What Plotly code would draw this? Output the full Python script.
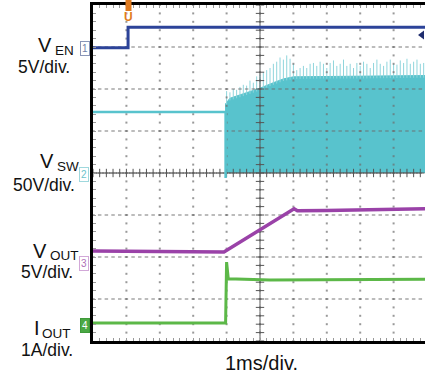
import numpy as np
import plotly.graph_objects as go

# ---- data (time in ms = divisions, vertical in screen divisions) ----
ven_t = [0, 1.05, 1.05, 9.94]
ven_y = [6.98, 6.98, 7.47, 7.47]

vsw_pre_t = [0, 3.96, 3.97, 3.97]
vsw_pre_y = [5.45, 5.45, 5.45, 3.88]
vsw_env_t = [3.97, 4.1, 4.5, 5.0, 5.4, 5.7, 6.0, 7.0, 8.0, 9.94]
vsw_env_y = [5.65, 5.78, 5.88, 6.02, 6.15, 6.24, 6.29, 6.30, 6.30, 6.32]
vsw_ground = 4.0
spike_t = [4.00, 4.10, 4.20, 4.30, 4.40, 4.50, 4.60, 4.70, 4.80, 4.90,
           5.00, 5.10, 5.20, 5.30, 5.40, 5.50, 5.60, 5.70, 5.80, 5.90,
           6.00, 6.10, 6.20, 6.30, 6.40, 6.50, 6.60, 6.70, 6.80, 6.90,
           7.00, 7.10, 7.20, 7.30, 7.40, 7.50, 7.60, 7.70, 7.80, 7.90,
           8.00, 8.10, 8.20, 8.30, 8.40, 8.50, 8.60, 8.70, 8.80, 8.90,
           9.00, 9.10, 9.20, 9.30, 9.40, 9.50, 9.60, 9.70, 9.80, 9.90]
spike_y = [5.95, 5.92, 6.00, 5.98, 6.05, 6.10, 6.08, 6.20, 6.15, 6.30,
           6.35, 6.40, 6.45, 6.50, 6.60, 6.65, 6.75, 6.70, 6.80, 6.72,
           6.60, 6.45, 6.50, 6.55, 6.50, 6.60, 6.62, 6.55, 6.65, 6.60,
           6.50, 6.62, 6.68, 6.55, 6.60, 6.70, 6.55, 6.60, 6.50, 6.62,
           6.55, 6.65, 6.60, 6.50, 6.62, 6.70, 6.60, 6.55, 6.65, 6.70,
           6.60, 6.58, 6.68, 6.62, 6.72, 6.60, 6.65, 6.70, 6.60, 6.62]

vout_t = [0, 3.92, 6.02, 6.12, 7.0, 9.94]
vout_y = [2.14, 2.12, 3.15, 3.10, 3.11, 3.15]

iout_t = [0, 3.97, 4.00, 4.05, 5.3, 9.94]
iout_y = [0.43, 0.43, 1.88, 1.48, 1.45, 1.47]

channels = ["V", "V", "V", "I"]
subs = ["EN", "SW", "OUT", "OUT"]
scales = ["5V/div.", "50V/div.", "5V/div.", "1A/div."]
timebase = "1ms/div."

BLUE = "#2c4399"
CYAN = "#58c3cd"
CYAN_L = "#8fd5dc"
PURPLE = "#9a42a8"
GREEN = "#5cb848"
FONT = "Liberation Sans, Arial, sans-serif"

# geometry helpers (pixel -> data / paper)
L, T, B = 93, 5, 34
PW, PH = 332.0, 336.0
PXX = 33.4
PXY = 42.0
def xd(px):
    return (px - L) / PXX
def yd(py):
    return (341 - py) / PXY
def xp(px):
    return (px - L) / PW
def yp(py):
    return (341 - py) / PH

fig = go.Figure()

# VSW switching area
fx = [vsw_env_t[0]] + vsw_env_t + [vsw_env_t[-1]]
fy = [vsw_ground] + vsw_env_y + [vsw_ground]
fig.add_trace(go.Scatter(x=fx, y=fy, fill="toself", fillcolor=CYAN,
                         line=dict(color=CYAN, width=1), mode="lines",
                         hoverinfo="skip"))
sx, sy = [], []
for t, p in zip(spike_t, spike_y):
    base = float(np.interp(t, vsw_env_t, vsw_env_y)) - 0.05
    sx += [t, t, None]
    sy += [base, p, None]
fig.add_trace(go.Scatter(x=sx, y=sy, mode="lines",
                         line=dict(color=CYAN_L, width=1), hoverinfo="skip"))

# graticule dots
GC = "rgba(110,110,110,0.7)"
gx, gy = [], []
for i in range(1, 10):
    for k in range(0, 41):
        gx.append(i); gy.append(k * 0.2)
fig.add_trace(go.Scatter(x=gx, y=gy, mode="markers", hoverinfo="skip",
                         marker=dict(symbol="square", size=2, color=GC,
                                     line=dict(width=0))))
hx, hy = [], []
for j in range(1, 8):
    for k in range(0, 50):
        hx.append(k * 0.2); hy.append(j)
fig.add_trace(go.Scatter(x=hx, y=hy, mode="markers", hoverinfo="skip",
                         marker=dict(symbol="line-ew", size=2.5,
                                     line=dict(width=1.3, color=GC))))
# center cross ticks
cx = [k * 0.2 for k in range(0, 50)] + [5.0] * 41
cy = [4.0] * 50 + [k * 0.2 for k in range(0, 41)]
fig.add_trace(go.Scatter(x=cx, y=cy, mode="markers", hoverinfo="skip",
                         marker=dict(symbol="cross-thin", size=6,
                                     line=dict(width=1, color="#555555"))))

fig.add_trace(go.Scatter(x=vsw_pre_t, y=vsw_pre_y, mode="lines",
                         line=dict(color=CYAN, width=2.5), hoverinfo="skip"))
fig.add_trace(go.Scatter(x=ven_t, y=ven_y, mode="lines",
                         line=dict(color=BLUE, width=3), hoverinfo="skip"))
fig.add_trace(go.Scatter(x=vout_t, y=vout_y, mode="lines",
                         line=dict(color=PURPLE, width=3.5), hoverinfo="skip"))
fig.add_trace(go.Scatter(x=iout_t, y=iout_y, mode="lines",
                         line=dict(color=GREEN, width=3), hoverinfo="skip"))
# trigger level pointer at right edge
fig.add_trace(go.Scatter(x=[xd(422)], y=[yd(35)], mode="markers", cliponaxis=False,
                         marker=dict(symbol="triangle-left", size=8, color="#1f2d6e"),
                         hoverinfo="skip"))

ann = []
# label pixel positions: (main right x, main center y, sub left x, sub center y,
#                         scale right x, scale center y)
lpos = [(53, 45, 53.5, 50.5, 71, 67),
        (55, 160.5, 55.5, 167, 76, 184.5),
        (48, 250.5, 48.5, 255.5, 74, 271.5),
        (41, 328, 41.5, 333.5, 74, 349.5)]
for ch, sb, sc, (mx, my, sxp, syp, kx, ky) in zip(channels, subs, scales, lpos):
    ann.append(dict(x=xp(mx), y=yp(my), xref="paper", yref="paper", text=ch, showarrow=False,
                    xanchor="right", yanchor="middle", borderpad=0,
                    font=dict(family=FONT, size=20, color="#111")))
    ann.append(dict(x=xp(sxp), y=yp(syp), xref="paper", yref="paper", text=sb, showarrow=False,
                    xanchor="left", yanchor="middle", borderpad=0,
                    font=dict(family=FONT, size=13.5, color="#111")))
    ann.append(dict(x=xp(kx), y=yp(ky), xref="paper", yref="paper", text=sc, showarrow=False,
                    xanchor="right", yanchor="middle", borderpad=0,
                    font=dict(family=FONT, size=17.5, color="#111")))
ann.append(dict(x=xp(261), y=yp(362.5), xref="paper", yref="paper", text=timebase,
                showarrow=False, xanchor="center", yanchor="middle", borderpad=0,
                font=dict(family=FONT, size=20, color="#111")))

# channel ground markers
mk = [("1", 85, 49, "#8a96b8", "white", "#7080a8"),
      ("2", 84, 174, "#9fd8dd", "white", "#6cc3cc"),
      ("3", 84, 263.5, "#d2a8d8", "white", "#b070b8"),
      ("4", 85, 325, "#3f9a3a", "#4aa844", "white")]
for txt, mxp, myp, bc, bg, fc in mk:
    ann.append(dict(x=xp(mxp), y=yp(myp), xref="paper", yref="paper", text=txt,
                    showarrow=False, xanchor="center", yanchor="middle",
                    borderpad=1, borderwidth=1, bordercolor=bc, bgcolor=bg,
                    font=dict(family=FONT, size=10, color=fc)))
# trigger marker "U"
ann.append(dict(x=xp(128.5), y=yp(17), xref="paper", yref="paper", text="<b>U</b>",
                showarrow=False, xanchor="center", yanchor="middle",
                font=dict(family=FONT, size=12, color="#e07b20")))

shapes = [dict(type="rect", xref="paper", yref="paper", x0=xp(125.5), x1=xp(131.5),
               y0=yp(11), y1=yp(0),
               fillcolor="#e07b20", line=dict(width=0), layer="above")]

fig.update_layout(
    width=425, height=375,
    margin=dict(l=L, r=0, t=T, b=B),
    paper_bgcolor="white", plot_bgcolor="white",
    showlegend=False,
    annotations=ann, shapes=shapes,
    xaxis=dict(range=[0, PW / PXX], showgrid=False, zeroline=False,
               showticklabels=False, showline=True, linecolor="black", linewidth=3,
               mirror="ticks", ticks="inside", ticklen=3, tickcolor="#999",
               dtick=1, tick0=0,
               minor=dict(dtick=0.2, ticks="inside", ticklen=3, tickcolor="#999"),
               layer="above traces", fixedrange=True),
    yaxis=dict(range=[0, 8], showgrid=False, zeroline=False,
               showticklabels=False, showline=True, linecolor="black", linewidth=3,
               mirror=False, ticks="inside", ticklen=3, tickcolor="#999",
               dtick=1, tick0=0,
               minor=dict(dtick=0.2, ticks="inside", ticklen=3, tickcolor="#999"),
               layer="above traces", fixedrange=True),
)

fig.write_html("out.html")
